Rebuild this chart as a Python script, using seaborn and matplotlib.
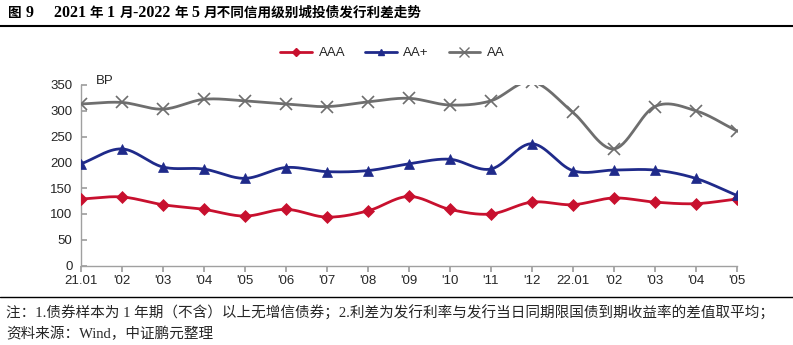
import numpy as np
import pandas as pd
import matplotlib
matplotlib.use("Agg")
import matplotlib.pyplot as plt
import seaborn as sns
from matplotlib.lines import Line2D
from matplotlib.offsetbox import TextArea, HPacker, AnchoredOffsetbox

months = ["21.01", "'02", "'03", "'04", "'05", "'06", "'07", "'08", "'09", "'10",
          "'11", "'12", "22.01", "'02", "'03", "'04", "'05"]
aaa = [129, 133, 118, 109, 96, 109, 94, 106, 134, 109, 100, 123, 118, 131, 123, 120, 129]
aa_plus = [197, 226, 191, 187, 169, 190, 182, 184, 197, 206, 187, 236, 184, 185, 185, 169, 136]
aa = [313, 316, 303, 322, 319, 313, 308, 317, 324, 311, 319, 356, 297, 226, 308, 300, 261]
series_names = ["AAA", "AA+", "AA"]
yticks = [0, 50, 100, 150, 200, 250, 300, 350]

colors = {"AAA": "#C8102E", "AA+": "#1F2A8A", "AA": "#6E6E6E"}
markers = {"AAA": "D", "AA+": "^", "AA": "x"}
msizes = {"AAA": 6.5, "AA+": 7.5, "AA": 9}

sns.set_theme(style="white")
plt.rcParams["font.family"] = ["Liberation Sans", "Noto Sans CJK SC"]

def catmull_rom(x, y, n=30):
    x = np.asarray(x, float); y = np.asarray(y, float)
    px = np.concatenate([[2 * x[0] - x[1]], x, [2 * x[-1] - x[-2]]])
    py = np.concatenate([[2 * y[0] - y[1]], y, [2 * y[-1] - y[-2]]])
    xs, ys = [], []
    for i in range(1, len(px) - 2):
        t = np.linspace(0, 1, n, endpoint=(i == len(px) - 3))
        for p, out in ((px, xs), (py, ys)):
            p0, p1, p2, p3 = p[i - 1], p[i], p[i + 1], p[i + 2]
            out.append(0.5 * ((2 * p1) + (-p0 + p2) * t + (2 * p0 - 5 * p1 + 4 * p2 - p3) * t ** 2
                              + (-p0 + 3 * p1 - 3 * p2 + p3) * t ** 3))
    return np.concatenate(xs), np.concatenate(ys)

def rich_text(fig, s, x, y, ascii_size, cjk_size, weight="normal"):
    runs = []
    for ch in s:
        is_ascii = ord(ch) < 128
        if runs and runs[-1][1] == is_ascii:
            runs[-1][0] += ch
        else:
            runs.append([ch, is_ascii])
    areas = []
    for txt, is_ascii in runs:
        props = dict(fontsize=ascii_size if is_ascii else cjk_size, fontweight=weight,
                     family=["Liberation Serif"] if is_ascii else ["Noto Sans CJK SC"], color="black")
        areas.append(TextArea(txt, textprops=props))
    box = HPacker(children=areas, align="baseline", pad=0, sep=0)
    anchored = AnchoredOffsetbox(loc="center left", child=box, pad=0, borderpad=0, frameon=False,
                                 bbox_to_anchor=(x, y), bbox_transform=fig.transFigure)
    fig.add_artist(anchored)

fig = plt.figure(figsize=(7.93, 3.45), dpi=100)
ax = fig.add_axes([0.102, 0.230, 0.827, 0.524])

idx = np.arange(len(months))
rows = []
for name, vals in zip(series_names, [aaa, aa_plus, aa]):
    sx, sy = catmull_rom(idx, vals)
    rows.append(pd.DataFrame({"x": sx, "y": sy, "s": name}))
smooth = pd.concat(rows, ignore_index=True)
sns.lineplot(data=smooth, x="x", y="y", hue="s", palette=colors, sort=False,
             estimator=None, linewidth=2.0, legend=False, ax=ax, zorder=2)
for name, vals in zip(series_names, [aaa, aa_plus, aa]):
    ax.plot(idx, vals, linestyle="none", marker=markers[name], markersize=msizes[name],
            color=colors[name], markeredgewidth=1.2 if name == "AA" else 0.5, zorder=3)

ax.set_xlim(0, 16)
ax.set_ylim(0, 350)
ax.set_xticks(idx)
ax.set_xticklabels(months)
ax.set_yticks(yticks)
ax.set_xlabel("")
ax.set_ylabel("")
for s in ["top", "right"]:
    ax.spines[s].set_visible(False)
for s in ["left", "bottom"]:
    ax.spines[s].set_color("#A0A0A0")
    ax.spines[s].set_linewidth(1.0)
ax.tick_params(axis="x", direction="out", length=4, color="#A0A0A0", labelsize=9.5, pad=3, bottom=True)
ax.tick_params(axis="y", direction="in", length=4, color="#A0A0A0", labelsize=9.5, pad=6, left=True)
ax.text(0.37, 357, "BP", fontsize=9.5, va="center", ha="left")

handles = [Line2D([0], [0], color=colors[n], lw=2, marker=markers[n],
                  markersize=msizes[n] - 2.5, markeredgewidth=1.0) for n in series_names]
fig.legend(handles, series_names, loc="center", bbox_to_anchor=(0.495, 0.846), ncol=3,
           frameon=False, fontsize=9.5, handlelength=2.4, columnspacing=1.5, handletextpad=0.5)

rich_text(fig, "图 9     2021 年 1 月-2022 年 5 月不同信用级别城投债发行利差走势", 0.010, 0.962,
          ascii_size=11.5, cjk_size=9.8, weight="bold")
fig.add_artist(Line2D([0, 1], [0.924, 0.924], color="black", lw=1.5, transform=fig.transFigure))
fig.add_artist(Line2D([0, 1], [0.139, 0.139], color="black", lw=1.0, transform=fig.transFigure))
fig.text(0.008, 0.093, "注：1.债券样本为 1 年期（不含）以上无增信债券；2.利差为发行利率与发行当日同期限国债到期收益率的差值取平均；",
         fontsize=10.5, va="center", ha="left", family=["Liberation Serif", "Noto Sans CJK SC"])
fig.text(0.008, 0.033, "资料来源：Wind，中证鹏元整理",
         fontsize=10.5, va="center", ha="left", family=["Liberation Serif", "Noto Sans CJK SC"])

fig.savefig("out.png", dpi=100)
